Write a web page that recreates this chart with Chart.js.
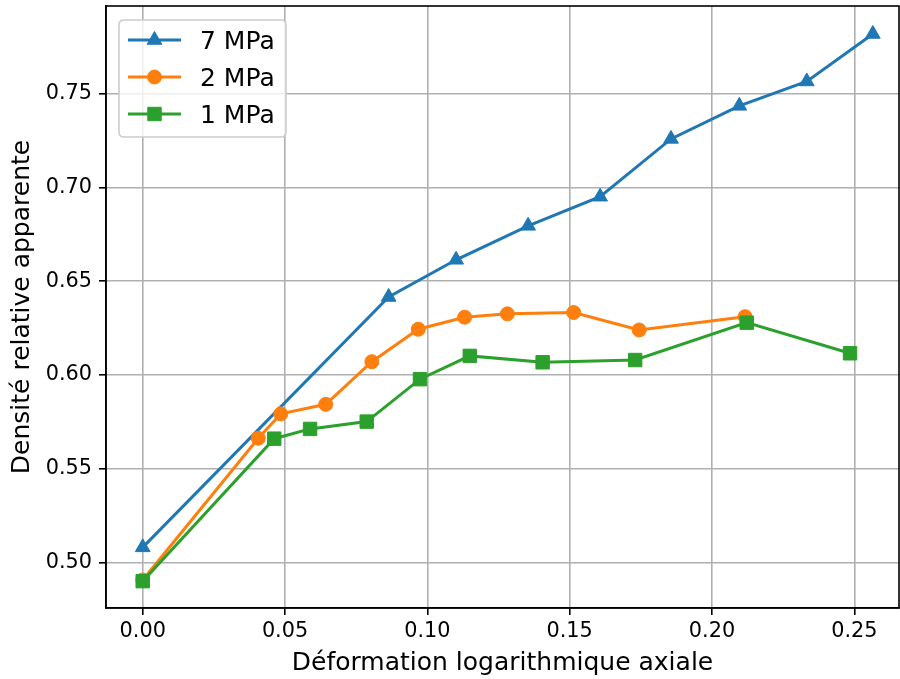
<!DOCTYPE html>
<html>
<head>
<meta charset="utf-8">
<script src="https://cdn.jsdelivr.net/npm/chart.js"></script>
<style>
html,body{margin:0;padding:0;background:#fff;}
#wrap{width:900px;height:679px;position:relative;}
</style>
</head>
<body>
<div id="wrap"><canvas id="c" width="900" height="679"></canvas></div>
<script>
// ---- data ----
const seriesLabels = ["7 MPa", "2 MPa", "1 MPa"];
const x7 = [0.0, 0.0864, 0.1101, 0.1354, 0.1607, 0.1856, 0.2096, 0.2333, 0.2565];
const y7 = [0.5082, 0.6416, 0.6614, 0.6795, 0.6950, 0.7258, 0.7434, 0.7564, 0.7817];
const x2 = [0.0, 0.0406, 0.0485, 0.0643, 0.0805, 0.0968, 0.1131, 0.1281, 0.1514, 0.1744, 0.2116];
const y2 = [0.4908, 0.5663, 0.5793, 0.5844, 0.6071, 0.6244, 0.6308, 0.6326, 0.6333, 0.6240, 0.6311];
const x1 = [0.0, 0.0462, 0.0588, 0.0787, 0.0974, 0.1149, 0.1405, 0.1730, 0.2122, 0.2485];
const y1 = [0.4902, 0.5661, 0.5713, 0.5752, 0.5978, 0.6102, 0.6068, 0.6080, 0.6279, 0.6116];
const xTitle = "Déformation logarithmique axiale";
const yTitle = "Densité relative apparente";

const colors = ["#1f77b4", "#ff7f0e", "#2ca02c"];
const styles = ["triangle", "circle", "rect"];
const radii = [8.5, 7, 9.5];

function pts(xs, ys){ return xs.map((x,i)=>({x:x, y:ys[i]})); }
const allX = [x7, x2, x1], allY = [y7, y2, y1];

const datasets = seriesLabels.map((lab, i) => ({
  label: lab,
  data: pts(allX[i], allY[i]),
  showLine: true,
  borderColor: colors[i],
  backgroundColor: colors[i],
  borderWidth: 3,
  pointStyle: styles[i],
  pointRadius: radii[i],
  pointBackgroundColor: colors[i],
  pointBorderColor: colors[i],
  pointBorderWidth: 1,
  order: 3 - i
}));

const FONT = "'DejaVu Sans', sans-serif";
const TICK_SIZE = 20.8;
const LABEL_SIZE = 25;

function drawMarker(ctx, style, x, y, r, color){
  ctx.save();
  ctx.fillStyle = color; ctx.strokeStyle = color; ctx.lineWidth = 1;
  ctx.beginPath();
  if (style === 'triangle'){
    let rad = 0;
    ctx.moveTo(x + Math.sin(rad)*r, y - Math.cos(rad)*r);
    rad += 2*Math.PI/3;
    ctx.lineTo(x + Math.sin(rad)*r, y - Math.cos(rad)*r);
    rad += 2*Math.PI/3;
    ctx.lineTo(x + Math.sin(rad)*r, y - Math.cos(rad)*r);
    ctx.closePath();
  } else if (style === 'circle'){
    ctx.arc(x, y, r, 0, Math.PI*2);
  } else {
    const s = Math.SQRT1_2 * r;
    ctx.rect(x - s, y - s, 2*s, 2*s);
  }
  ctx.fill(); ctx.stroke();
  ctx.restore();
}

const framePlugin = {
  id: 'frame',
  afterDatasetsDraw(chart){
    const {ctx, chartArea:a} = chart;
    ctx.save();
    ctx.strokeStyle = '#000';
    ctx.lineWidth = 1.6;
    ctx.strokeRect(a.left, a.top, a.right - a.left, a.bottom - a.top);
    ctx.restore();
  }
};

const legendPlugin = {
  id: 'mplLegend',
  afterDraw(chart){
    const ctx = chart.ctx;
    const bx = 119, by = 20, bw = 167, bh = 117, rr = 5;
    ctx.save();
    ctx.beginPath();
    ctx.moveTo(bx+rr, by);
    ctx.lineTo(bx+bw-rr, by); ctx.quadraticCurveTo(bx+bw, by, bx+bw, by+rr);
    ctx.lineTo(bx+bw, by+bh-rr); ctx.quadraticCurveTo(bx+bw, by+bh, bx+bw-rr, by+bh);
    ctx.lineTo(bx+rr, by+bh); ctx.quadraticCurveTo(bx, by+bh, bx, by+bh-rr);
    ctx.lineTo(bx, by+rr); ctx.quadraticCurveTo(bx, by, bx+rr, by);
    ctx.closePath();
    ctx.fillStyle = 'rgba(255,255,255,0.8)';
    ctx.fill();
    ctx.strokeStyle = '#cccccc';
    ctx.lineWidth = 1.6;
    ctx.stroke();
    const rows = [40, 77, 114];
    chart.data.datasets.forEach((ds, i) => {
      const y = rows[i];
      ctx.beginPath();
      ctx.strokeStyle = ds.borderColor;
      ctx.lineWidth = 3;
      ctx.moveTo(128, y); ctx.lineTo(181, y);
      ctx.stroke();
      drawMarker(ctx, ds.pointStyle, 154.5, y, ds.pointRadius, ds.borderColor);
      ctx.fillStyle = '#000';
      ctx.font = LABEL_SIZE + "px " + FONT;
      ctx.textAlign = 'left';
      ctx.textBaseline = 'alphabetic';
      ctx.fillText(ds.label, 200, y + 9.1);
    });
    ctx.restore();
  }
};

new Chart(document.getElementById('c'), {
  type: 'scatter',
  data: { datasets },
  plugins: [framePlugin, legendPlugin],
  options: {
    responsive: false,
    maintainAspectRatio: false,
    animation: false,
    layout: { autoPadding: false, padding: { left: 0, top: 6, right: 1, bottom: 0 } },
    plugins: { legend: { display: false }, tooltip: { enabled: false } },
    scales: {
      x: {
        type: 'linear',
        min: -0.0129, max: 0.2657,
        afterFit(s){ s.height = 71; s.paddingLeft = 0; s.paddingRight = 0; s.paddingTop = 0; s.paddingBottom = 0; },
        ticks: {
          stepSize: 0.05, includeBounds: false, padding: 4.5,
          color: '#000', font: { family: FONT, size: TICK_SIZE },
          callback: v => v.toFixed(2)
        },
        grid: { color: '#b0b0b0', lineWidth: 1.6, tickColor: '#000', tickLength: 7, tickWidth: 1.6 },
        border: { display: true, color: '#000', width: 1.6 },
        title: { display: true, text: xTitle, color: '#000', font: { family: FONT, size: LABEL_SIZE }, padding: { top: 0, bottom: 1 } }
      },
      y: {
        type: 'linear',
        min: 0.4759, max: 0.7966,
        afterFit(s){ s.width = 106; s.paddingLeft = 0; s.paddingRight = 0; s.paddingTop = 0; s.paddingBottom = 0; },
        ticks: {
          stepSize: 0.05, includeBounds: false, padding: 7,
          color: '#000', font: { family: FONT, size: TICK_SIZE },
          callback: v => v.toFixed(2)
        },
        grid: { color: '#b0b0b0', lineWidth: 1.6, tickColor: '#000', tickLength: 7, tickWidth: 1.6 },
        border: { display: true, color: '#000', width: 1.6 },
        title: { display: true, text: yTitle, color: '#000', font: { family: FONT, size: LABEL_SIZE }, padding: { top: 7, bottom: 0 } }
      }
    }
  }
});
</script>
</body>
</html>
